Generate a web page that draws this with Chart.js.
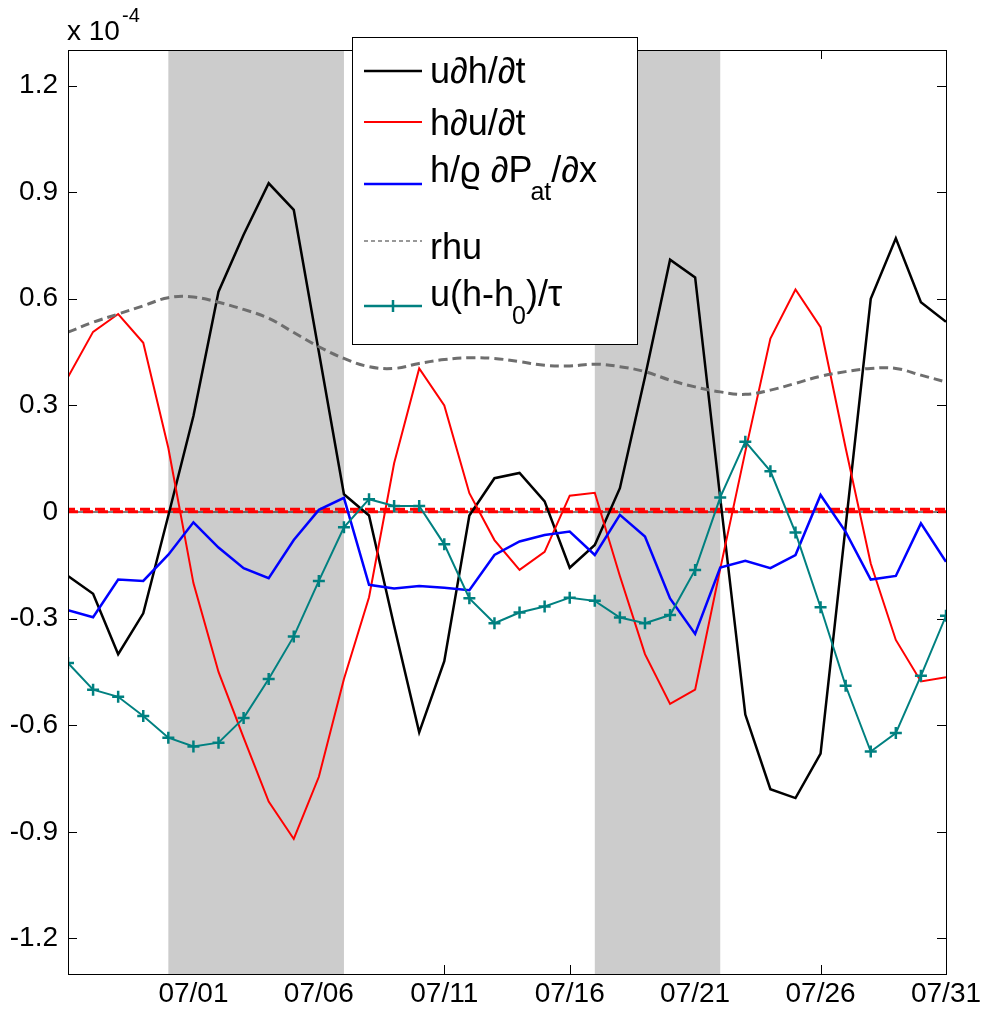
<!DOCTYPE html>
<html>
<head>
<meta charset="utf-8">
<script src="https://cdn.jsdelivr.net/npm/chart.js@4.4.1/dist/chart.umd.min.js"></script>
<style>
    html, body { margin: 0; padding: 0; background: #fff; }
    #wrap { position: relative; width: 983px; height: 1014px; }
</style>
</head>
<body>
<div id="wrap"><canvas id="chart" width="983" height="1014"></canvas></div>
<script>
// days since 06/26 (x axis), values in units of 1e-4
const days = [0, 1, 2, 3, 4, 5, 6, 7, 8, 9, 10, 11, 12, 13, 14, 15, 16, 17,
    18, 19, 20, 21, 22, 23, 24, 25, 26, 27, 28, 29, 30, 31, 32, 33, 34, 35];

const tickDays = [5, 10, 15, 20, 25, 30, 35];
const tickLabels = ['07/01', '07/06', '07/11', '07/16', '07/21', '07/26', '07/31'];

// shaded periods (day numbers)
const shadeStart = [4, 21];
const shadeEnd = [11, 26];

const uDhDt = [-0.18, -0.23, -0.40, -0.285, -0.01, 0.27, 0.62, 0.78, 0.925, 0.85, 0.45, 0.05,
    -0.01, -0.32, -0.62, -0.42, -0.01, 0.095, 0.11, 0.03, -0.157, -0.093, 0.067, 0.38,
    0.71, 0.66, 0.04, -0.57, -0.78, -0.805, -0.68, -0.04, 0.60, 0.77, 0.59, 0.535];

const hDuDt = [0.38, 0.507, 0.557, 0.476, 0.18, -0.20, -0.45, -0.635, -0.815, -0.92, -0.745, -0.47,
    -0.24, 0.137, 0.404, 0.30, 0.053, -0.079, -0.163, -0.112, 0.046, 0.054, -0.18, -0.40,
    -0.54, -0.50, -0.16, 0.17, 0.488, 0.626, 0.52, 0.18, -0.145, -0.36, -0.477, -0.465];

const hDpDx = [-0.276, -0.296, -0.19, -0.194, -0.12, -0.029, -0.10, -0.158, -0.186, -0.079, 0.006, 0.04,
    -0.205, -0.215, -0.208, -0.213, -0.22, -0.121, -0.083, -0.065, -0.055, -0.121, -0.008, -0.069,
    -0.243, -0.343, -0.156, -0.137, -0.158, -0.121, 0.048, -0.056, -0.19, -0.18, -0.032, -0.14];

const rhu = [0.506, 0.534, 0.557, 0.58, 0.603, 0.605, 0.59, 0.57, 0.545, 0.505, 0.465, 0.432,
    0.409, 0.404, 0.418, 0.429, 0.434, 0.432, 0.423, 0.413, 0.411, 0.416, 0.409, 0.395,
    0.371, 0.352, 0.338, 0.331, 0.343, 0.362, 0.382, 0.395, 0.404, 0.404, 0.385, 0.366];

const uHTau = [-0.425, -0.50, -0.52, -0.574, -0.635, -0.66, -0.649, -0.58, -0.47, -0.35, -0.194, -0.043,
    0.036, 0.017, 0.017, -0.091, -0.243, -0.313, -0.283, -0.266, -0.241, -0.25, -0.297, -0.313,
    -0.29, -0.163, 0.041, 0.198, 0.115, -0.058, -0.268, -0.489, -0.674, -0.622, -0.461, -0.292];

// near-zero reference lines
const zeroDays = [0, 35];
const zeroLine = [0, 0];
const redDashA = [0.008, 0.008];
const redDashB = [0.001, 0.001];

const FONT = "'Liberation Sans', Arial, Helvetica, sans-serif";

function toPoints(xs, ys) {
    return xs.map((d, i) => ({ x: d, y: ys[i] }));
}

// MATLAB-like axes: inward ticks on all sides, shaded bands, box, legend
const matlabAxes = {
    id: 'matlabAxes',
    beforeDatasetsDraw(chart) {
        const { ctx, chartArea: a, scales: { x, y } } = chart;
        ctx.save();
        ctx.strokeStyle = '#000';
        ctx.lineWidth = 1;
        ctx.beginPath();
        x.ticks.forEach(t => {
            const px = Math.round(x.getPixelForValue(t.value)) + 0.5;
            ctx.moveTo(px, a.bottom); ctx.lineTo(px, a.bottom - 9);
            ctx.moveTo(px, a.top); ctx.lineTo(px, a.top + 9);
        });
        y.ticks.forEach(t => {
            const py = Math.round(y.getPixelForValue(t.value)) + 0.5;
            ctx.moveTo(a.left, py); ctx.lineTo(a.left + 9, py);
            ctx.moveTo(a.right, py); ctx.lineTo(a.right - 9, py);
        });
        ctx.stroke();

        // shaded periods drawn over the ticks
        ctx.fillStyle = '#cccccc';
        shadeStart.forEach((s, i) => {
            const x0 = x.getPixelForValue(s);
            const x1 = x.getPixelForValue(shadeEnd[i]);
            ctx.fillRect(x0, a.top, x1 - x0, a.bottom - a.top);
        });
        ctx.restore();
    },
    afterDatasetsDraw(chart) {
        const { ctx, chartArea: a } = chart;
        ctx.save();
        ctx.strokeStyle = '#000';
        ctx.lineWidth = 1;
        ctx.strokeRect(Math.round(a.left) + 0.5, Math.round(a.top) + 0.5,
            Math.round(a.right - a.left), Math.round(a.bottom - a.top));
        ctx.restore();
    },
    afterDraw(chart) {
        const ctx = chart.ctx;
        ctx.save();

        // exponent label
        ctx.fillStyle = '#000';
        ctx.textBaseline = 'alphabetic';
        ctx.font = `28px ${FONT}`;
        ctx.fillText('x 10', 67, 40);
        ctx.font = `20px ${FONT}`;
        ctx.fillText('-4', 122, 22);

        // legend box
        ctx.fillStyle = '#fff';
        ctx.fillRect(352, 37, 286, 308);
        ctx.strokeStyle = '#000';
        ctx.lineWidth = 1;
        ctx.strokeRect(352.5, 37.5, 285, 307);

        const items = [
            { parts: [['u∂h/∂t', 0]], lineY: 71, baseY: 83, color: '#000', width: 2.5 },
            { parts: [['h∂u/∂t', 0]], lineY: 122, baseY: 135, color: '#ff0000', width: 2 },
            { parts: [['h/ϱ ∂P', 0], ['at', 1], ['/∂x', 0]], lineY: 184, baseY: 182, color: '#0000ff', width: 2.5 },
            { parts: [['rhu', 0]], lineY: 241, baseY: 259, color: '#777', width: 1.5, dash: [4, 3] },
            { parts: [['u(h-h', 0], ['0', 1], [')/τ', 0]], lineY: 306, baseY: 306, color: '#008080', width: 2.5, marker: true }
        ];

        items.forEach(it => {
            ctx.beginPath();
            ctx.strokeStyle = it.color;
            ctx.lineWidth = it.width;
            ctx.setLineDash(it.dash || []);
            ctx.moveTo(364, it.lineY);
            ctx.lineTo(422, it.lineY);
            ctx.stroke();
            ctx.setLineDash([]);
            if (it.marker) {
                ctx.beginPath();
                ctx.moveTo(393, it.lineY - 6); ctx.lineTo(393, it.lineY + 6);
                ctx.stroke();
            }
            let tx = 430;
            ctx.fillStyle = '#000';
            it.parts.forEach(([txt, sub]) => {
                if (sub) {
                    ctx.font = `25px ${FONT}`;
                    ctx.fillText(txt, tx - 2, it.baseY + 18);
                    tx += ctx.measureText(txt).width - 2;
                } else {
                    ctx.font = `36px ${FONT}`;
                    ctx.fillText(txt, tx, it.baseY);
                    tx += ctx.measureText(txt).width;
                }
            });
        });
        ctx.restore();
    }
};

const lineDefaults = { pointRadius: 0, pointHoverRadius: 0, fill: false, tension: 0 };

new Chart(document.getElementById('chart').getContext('2d'), {
    type: 'line',
    data: {
        datasets: [
            { ...lineDefaults, data: toPoints(zeroDays, zeroLine), borderColor: '#000', borderWidth: 1, order: 9 },
            { ...lineDefaults, data: toPoints(zeroDays, redDashB), borderColor: '#ff0000', borderWidth: 3, borderDash: [10, 5], order: 8 },
            { ...lineDefaults, data: toPoints(zeroDays, redDashA), borderColor: '#ff0000', borderWidth: 3, borderDash: [10, 5], borderDashOffset: 3, order: 7 },
            { ...lineDefaults, data: toPoints(days, uDhDt), borderColor: '#000000', borderWidth: 2.5, order: 5 },
            { ...lineDefaults, data: toPoints(days, hDuDt), borderColor: '#ff0000', borderWidth: 2, order: 4 },
            { ...lineDefaults, data: toPoints(days, hDpDx), borderColor: '#0000ff', borderWidth: 2.5, order: 3 },
            { ...lineDefaults, data: toPoints(days, rhu), borderColor: '#6e6e6e', borderWidth: 3, borderDash: [9, 5], tension: 0.4, order: 2 },
            {
                ...lineDefaults, data: toPoints(days, uHTau), borderColor: '#008080', borderWidth: 2,
                pointStyle: 'cross', pointRadius: 6, pointBorderWidth: 2.5, pointBorderColor: '#008080', order: 1
            }
        ]
    },
    options: {
        responsive: false,
        animation: false,
        layout: { padding: { left: 0, right: 37, top: 50, bottom: 0 } },
        plugins: {
            legend: { display: false },
            tooltip: { enabled: false }
        },
        scales: {
            x: {
                type: 'linear',
                min: 0,
                max: 35,
                grid: { display: false, drawTicks: false },
                border: { display: false },
                afterBuildTicks: axis => { axis.ticks = tickDays.map(v => ({ value: v })); },
                afterFit: axis => { axis.height = 40; axis.paddingLeft = 0; axis.paddingRight = 0; },
                ticks: {
                    autoSkip: false,
                    maxRotation: 0,
                    padding: 3,
                    color: '#000',
                    font: { family: FONT, size: 28 },
                    callback: v => tickLabels[tickDays.indexOf(v)]
                }
            },
            y: {
                type: 'linear',
                min: -1.3,
                max: 1.3,
                grid: { display: false, drawTicks: false },
                border: { display: false },
                afterFit: axis => { axis.width = 68; },
                ticks: {
                    stepSize: 0.3,
                    includeBounds: false,
                    padding: 10,
                    color: '#000',
                    font: { family: FONT, size: 28 },
                    callback: v => Math.abs(v) < 1e-9 ? '0' : v.toFixed(1)
                }
            }
        }
    },
    plugins: [matlabAxes]
});
</script>
</body>
</html>
